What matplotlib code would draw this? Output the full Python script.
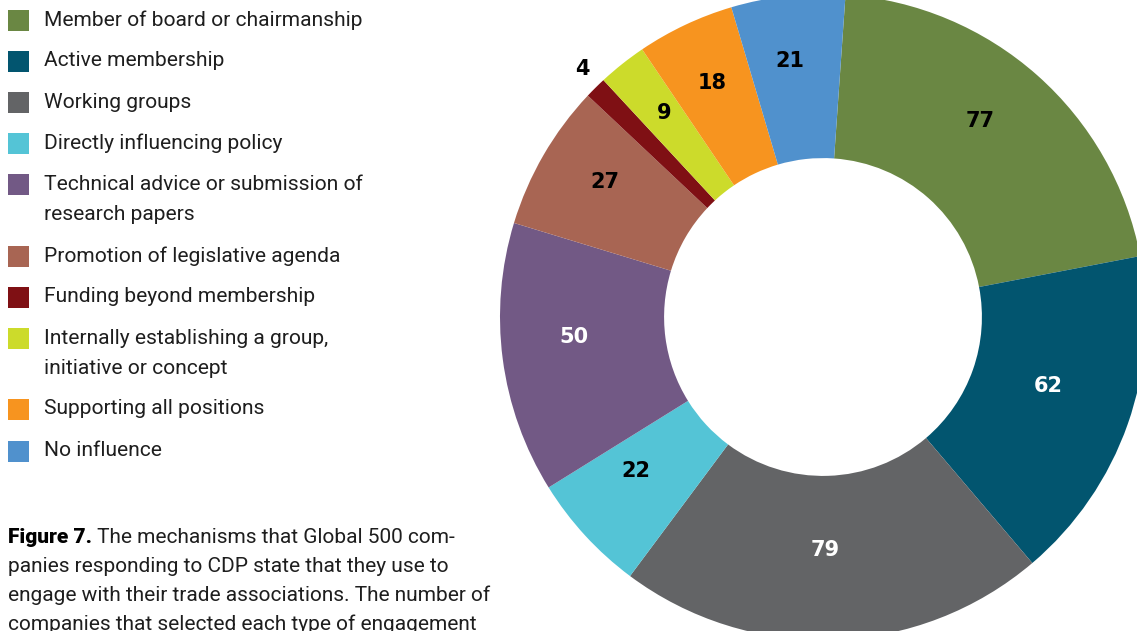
import numpy as np
import matplotlib
matplotlib.use("Agg")
import matplotlib.pyplot as plt
from matplotlib.patches import Rectangle

categories = [
    "Member of board or chairmanship",
    "Active membership",
    "Working groups",
    "Directly influencing policy",
    "Technical advice or submission of\nresearch papers",
    "Promotion of legislative agenda",
    "Funding beyond membership",
    "Internally establishing a group,\ninitiative or concept",
    "Supporting all positions",
    "No influence",
]
values = [77, 62, 79, 22, 50, 27, 4, 9, 18, 21]
colors = ["#6a8743", "#02556f", "#636466", "#54c4d6", "#725985",
          "#a86553", "#7f1014", "#ccdb2b", "#f7941f", "#5091cd"]
label_colors = ["black", "white", "white", "black", "white",
                "black", "black", "black", "black", "black"]
caption_bold = "Figure 7."
caption_lines = [
    " The mechanisms that Global 500 com-",
    "panies responding to CDP state that they use to",
    "engage with their trade associations. The number of",
    "companies that selected each type of engagement",
]

W, H = 1137, 631
fig = plt.figure(figsize=(W / 100, H / 100), dpi=100)
fig.patch.set_facecolor("white")

# ---- donut ----
cx, cy, R = 823, 317, 323
ax = fig.add_axes([(cx - R) / W, (H - cy - R) / H, 2 * R / W, 2 * R / H])
wedges, _ = ax.pie(values, colors=colors, startangle=86, counterclock=False,
                   radius=1.0, wedgeprops=dict(width=0.508, linewidth=0))
ax.set_xlim(-1, 1)
ax.set_ylim(-1, 1)
ax.set_aspect("auto")
ax.axis("off")

off_x, off_y = -6 / R, 12 / R
for w, v, c in zip(wedges, values, label_colors):
    ang = np.deg2rad((w.theta1 + w.theta2) / 2)
    r = 0.76 if v >= 5 else 1.03
    ax.text(r * np.cos(ang) + off_x, r * np.sin(ang) + off_y, str(v),
            ha="center", va="center", color=c, fontsize=15,
            fontweight="heavy", family="DejaVu Sans")

# ---- legend and caption in pixel coords ----
bg = fig.add_axes([0, 0, 1, 1], zorder=-1)
bg.set_xlim(0, W)
bg.set_ylim(H, 0)
bg.axis("off")

row_y = [20, 61, 102, 143, 184, 256, 297, 338, 409, 451]
for yy, lab, col in zip(row_y, categories, colors):
    bg.add_patch(Rectangle((8, yy - 10.5), 21, 21, facecolor=col, edgecolor="none"))
    for k, line in enumerate(lab.split("\n")):
        bg.text(44, yy + k * 30, line, ha="left", va="center", fontsize=15.1,
                color="#1e1e1e", family="Roboto")

base_y = [543, 572, 601, 630]
fig.canvas.draw()
renderer = fig.canvas.get_renderer()
t_bold = bg.text(8, base_y[0], caption_bold, ha="left", va="baseline",
                 fontsize=15, fontweight="heavy", color="black", family="Roboto")
bb = t_bold.get_window_extent(renderer=renderer)
x_after = bb.x1
for i, (yy, line) in enumerate(zip(base_y, caption_lines)):
    x0 = x_after if i == 0 else 8
    bg.text(x0, yy, line, ha="left", va="baseline", fontsize=15,
            color="#1e1e1e", family="Roboto")

fig.savefig("out.png", dpi=100, facecolor="white")
